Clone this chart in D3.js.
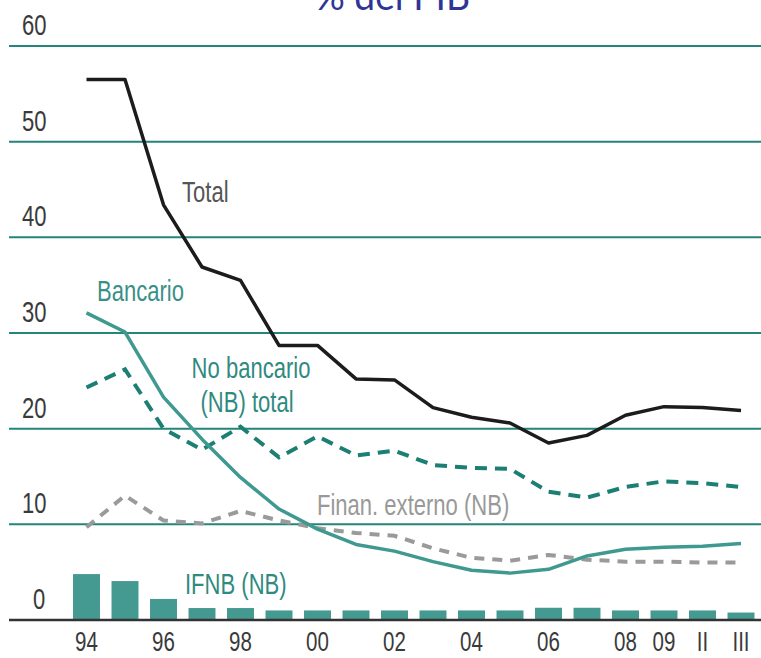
<!DOCTYPE html>
<html>
<head>
<meta charset="utf-8">
<script src="https://cdn.jsdelivr.net/npm/d3@7"></script>
<style>
  html, body { margin: 0; padding: 0; background: #ffffff; }
  svg { display: block; }
</style>
</head>
<body>
<svg id="chart" width="761" height="658"></svg>
<script>
// ---- data ----
const categories = ["94","95","96","97","98","99","00","01","02","03","04","05","06","07","08","09","II","III"];
const tickLabels = ["94","96","98","00","02","04","06","08","09","II","III"];
const yTicks = [0, 10, 20, 30, 40, 50, 60];
const total =      [56.5, 56.5, 43.4, 36.9, 35.5, 28.7, 28.7, 25.2, 25.1, 22.2, 21.2, 20.6, 18.5, 19.3, 21.4, 22.3, 22.2, 21.9];
const bancario =   [32.1, 30.1, 23.3, 18.9, 14.9, 11.6, 9.5, 7.9, 7.2, 6.1, 5.2, 4.9, 5.3, 6.7, 7.4, 7.6, 7.7, 8.0];
const noBancario = [24.3, 26.2, 20.0, 17.8, 20.2, 17.0, 19.2, 17.2, 17.7, 16.2, 15.9, 15.8, 13.4, 12.8, 13.9, 14.5, 14.3, 13.9];
const finanExt =   [9.7, 13.0, 10.4, 10.1, 11.4, 10.4, 9.6, 9.1, 8.8, 7.5, 6.5, 6.2, 6.8, 6.3, 6.1, 6.1, 6.0, 6.0];
const ifnb =       [4.8, 4.07, 2.2, 1.25, 1.25, 1.0, 1.0, 1.0, 1.0, 1.0, 1.0, 1.0, 1.28, 1.28, 1.0, 1.0, 1.0, 0.78];

// ---- layout ----
const svg = d3.select("#chart");
const x = d3.scaleBand().domain(categories).range([67.25, 760.25]).paddingInner(0.3).paddingOuter(0.15);
const y = d3.scaleLinear().domain([0, 60]).range([620, 46]);
const cx = c => x(c) + x.bandwidth() / 2;
const SX = 0.76;

function label(txt, px, py, color, anchor, size) {
  return svg.append("text")
    .attr("transform", `translate(${px},${py}) scale(${SX},1)`)
    .attr("text-anchor", anchor || "start")
    .attr("font-family", "'Liberation Sans', Arial, sans-serif")
    .attr("font-size", size || 29)
    .attr("fill", color)
    .text(txt);
}

// title (cut off at top, as in the original)
svg.append("text")
  .attr("x", 315).attr("y", 10)
  .attr("textLength", 155).attr("lengthAdjust", "spacingAndGlyphs")
  .attr("font-family", "Lato, 'Open Sans', sans-serif")
  .attr("font-size", 38)
  .attr("fill", "#2f3495")
  .text("% del PIB");

// gridlines
svg.append("g").selectAll("line").data(yTicks.filter(d => d > 0)).join("line")
  .attr("x1", 9).attr("x2", 761)
  .attr("y1", d => y(d)).attr("y2", d => y(d))
  .attr("stroke", "#23857b").attr("stroke-width", 2);

// y labels
yTicks.forEach(t => {
  const tx = t === 0 ? 33 : 22;
  label(String(t), tx, y(t) - 11, "#3a3a3a");
});

// bars
svg.append("g").selectAll("rect").data(categories).join("rect")
  .attr("x", d => x(d))
  .attr("width", x.bandwidth())
  .attr("y", (d, i) => y(ifnb[i]))
  .attr("height", (d, i) => y(0) - y(ifnb[i]))
  .attr("fill", "#449a91");

// baseline
svg.append("line").attr("x1", 9).attr("x2", 761)
  .attr("y1", y(0)).attr("y2", y(0))
  .attr("stroke", "#333333").attr("stroke-width", 2.5);

// x labels
tickLabels.forEach(t => label(t, cx(t), 651, "#3a3a3a", "middle", 27));

// lines
const linear = d3.line().x((d, i) => cx(categories[i])).y(d => y(d));

svg.append("path").datum(finanExt).attr("d", linear)
  .attr("fill", "none").attr("stroke", "#9a9a9a").attr("stroke-width", 4)
  .attr("stroke-dasharray", "10,8");
svg.append("path").datum(noBancario).attr("d", linear)
  .attr("fill", "none").attr("stroke", "#1b7f73").attr("stroke-width", 4)
  .attr("stroke-dasharray", "12,8");
svg.append("path").datum(bancario).attr("d", linear)
  .attr("fill", "none").attr("stroke", "#3f9990").attr("stroke-width", 3.5)
  .attr("stroke-linejoin", "round");
svg.append("path").datum(total).attr("d", linear)
  .attr("fill", "none").attr("stroke", "#1c1c1c").attr("stroke-width", 3.5)
  .attr("stroke-linejoin", "round");

// series labels
label("Total", 182, 202, "#555555");
label("Bancario", 97, 301, "#3a9088");
label("No bancario", 251, 378, "#2f8a7f", "middle");
label("(NB) total", 247, 412, "#2f8a7f", "middle");
label("Finan. externo (NB)", 317, 515, "#999999");
label("IFNB (NB)", 185, 594, "#2f8a7f");
</script>
</body>
</html>
